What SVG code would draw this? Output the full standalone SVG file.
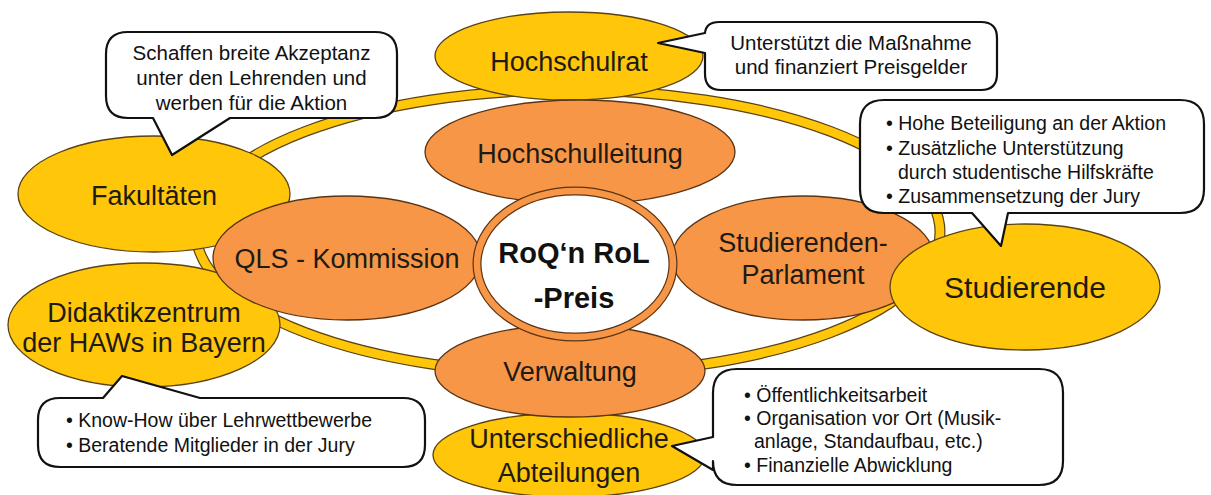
<svg xmlns="http://www.w3.org/2000/svg" width="1211" height="495" viewBox="0 0 1211 495">
<style>
.y{fill:#FFC60A;stroke:#5a4214;stroke-width:1.3}
.o{fill:#F79646;stroke:#5a3414;stroke-width:1.3}
.t{font-family:"Liberation Sans",Arial,sans-serif;font-size:27px;fill:#1e1a14;text-anchor:middle}
.b{fill:#fff;stroke:#111;stroke-width:2.2;stroke-linejoin:round}
.bt{font-family:"Liberation Sans",Arial,sans-serif;font-size:19.5px;fill:#111}
.bc{text-anchor:middle;font-size:20.5px}
</style>
<rect width="1211" height="495" fill="#fff"/>
<g id="connectors">
<ellipse cx="568" cy="232" rx="372" ry="142" fill="none" stroke="#5a4214" stroke-width="11"/>
<ellipse cx="568" cy="232" rx="372" ry="142" fill="none" stroke="#FFC60A" stroke-width="8.6"/>
</g>
<g id="hochschulrat"><ellipse class="y" cx="569" cy="56" rx="134" ry="44"/><text class="t" x="569" y="71">Hochschulrat</text></g>
<g id="hochschulleitung"><ellipse class="o" cx="580" cy="152" rx="155" ry="52"/><text class="t" x="580" y="163">Hochschulleitung</text></g>
<g id="fakultaeten"><ellipse class="y" cx="154" cy="194" rx="136" ry="58"/><text class="t" x="154" y="205">Fakultäten</text></g>
<g id="didaktik"><ellipse class="y" cx="144" cy="325" rx="136" ry="62"/><text class="t" x="144" y="322">Didaktikzentrum</text><text class="t" x="144" y="352">der HAWs in Bayern</text></g>
<g id="qls"><ellipse class="o" cx="347" cy="258" rx="134" ry="62"/><text class="t" x="347" y="268">QLS - Kommission</text></g>
<g id="parlament"><ellipse class="o" cx="803" cy="258" rx="131" ry="62"/><text class="t" x="803" y="252">Studierenden-</text><text class="t" x="803" y="284">Parlament</text></g>
<g id="studierende"><ellipse class="y" cx="1025" cy="287" rx="135" ry="63"/><text class="t" x="1025" y="298" style="font-size:30px">Studierende</text></g>
<g id="abteilungen"><ellipse class="y" cx="569" cy="455" rx="136" ry="42"/><text class="t" x="569" y="448">Unterschiedliche</text><text class="t" x="569" y="482">Abteilungen</text></g>
<g id="verwaltung"><ellipse class="o" cx="570" cy="371" rx="135" ry="46"/><text class="t" x="570" y="381">Verwaltung</text></g>
<g id="preis">
<ellipse cx="575" cy="264" rx="98" ry="73" fill="#fff" stroke="#5a3414" stroke-width="9"/>
<ellipse cx="575" cy="264" rx="98" ry="73" fill="none" stroke="#F79646" stroke-width="6.6"/>
<text class="t" x="574" y="263" style="font-weight:bold;font-size:29px;fill:#111">RoQ‘n RoL</text>
<text class="t" x="574" y="308" style="font-weight:bold;font-size:29px;fill:#111">-Preis</text>
</g>
<g id="bubble-fakultaeten">
<path class="b" d="M128,32 H375 Q397,32 397,54 V96 Q397,118 375,118 H230 L172,155 L153,118 H128 Q106,118 106,96 V54 Q106,32 128,32 Z"/>
<text class="bt bc" x="251.5" y="60">Schaffen breite Akzeptanz</text>
<text class="bt bc" x="251.5" y="85">unter den Lehrenden und</text>
<text class="bt bc" x="251.5" y="110">werben für die Aktion</text>
</g>
<g id="bubble-hochschulrat">
<path class="b" d="M719,22 H981 Q997,22 997,38 V74 Q997,90 981,90 H721 Q705,90 705,74 V53 L658,43 L705,33 Q706,22 719,22 Z"/>
<text class="bt bc" x="851" y="50">Unterstützt die Maßnahme</text>
<text class="bt bc" x="851" y="74">und finanziert Preisgelder</text>
</g>
<g id="bubble-studierende">
<path class="b" d="M884,100 H1180 Q1204,100 1204,124 V189 Q1204,213 1180,213 H1008 L1001,246 L972,213 H884 Q860,213 860,189 V124 Q860,100 884,100 Z"/>
<text class="bt" x="886" y="130">• Hohe Beteiligung an der Aktion</text>
<text class="bt" x="886" y="155">• Zusätzliche Unterstützung</text>
<text class="bt" x="898" y="179">durch studentische Hilfskräfte</text>
<text class="bt" x="886" y="203">• Zusammensetzung der Jury</text>
</g>
<g id="bubble-didaktik">
<path class="b" d="M60,398 H103 L122,376 L200,398 H403 Q425,398 425,420 V445 Q425,467 403,467 H60 Q38,467 38,445 V420 Q38,398 60,398 Z"/>
<text class="bt" x="66" y="427">• Know-How über Lehrwettbewerbe</text>
<text class="bt" x="66" y="452">• Beratende Mitglieder in der Jury</text>
</g>
<g id="bubble-abteilungen">
<path class="b" d="M737,369 H1039 Q1063,369 1063,393 V461 Q1063,485 1039,485 H737 Q713,485 713,461 V470 L672,446 L713,437 V393 Q713,369 737,369 Z"/>
<text class="bt" x="744" y="402">• Öffentlichkeitsarbeit</text>
<text class="bt" x="744" y="425">• Organisation vor Ort (Musik-</text>
<text class="bt" x="754" y="448">anlage, Standaufbau, etc.)</text>
<text class="bt" x="744" y="472">• Finanzielle Abwicklung</text>
</g>
</svg>
